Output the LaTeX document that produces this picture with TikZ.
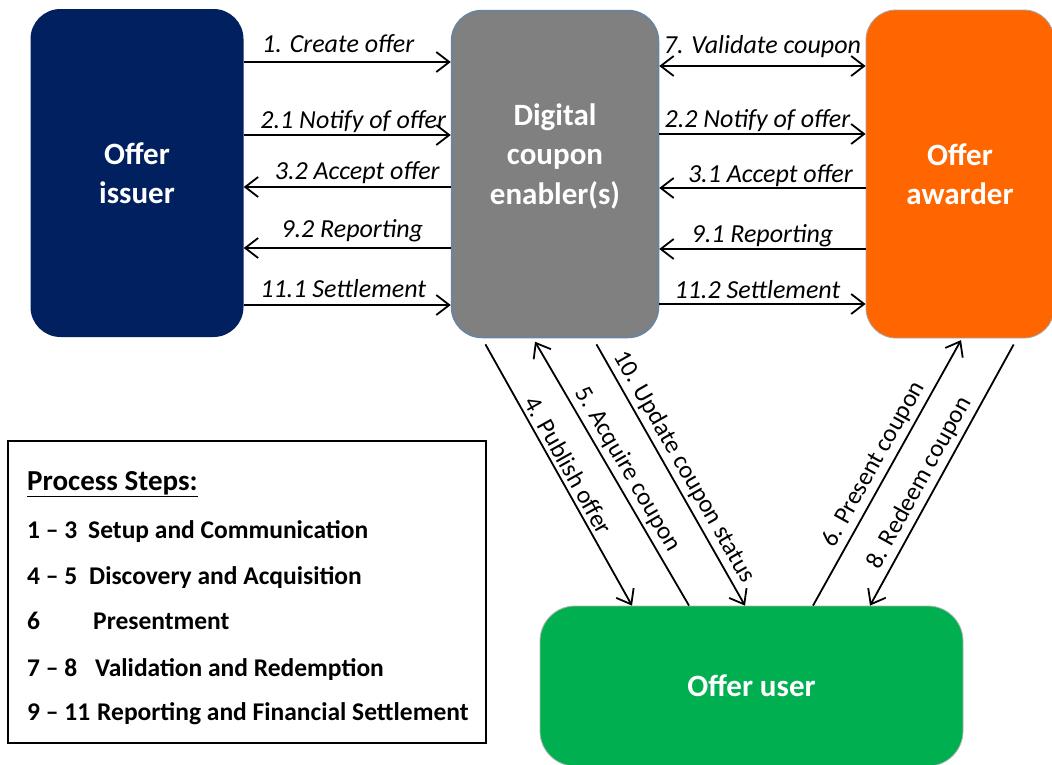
\documentclass[tikz,border=0pt]{standalone}
\usepackage{fontspec}
\setmainfont{Carlito}
\usepackage{tikz}
\usetikzlibrary{arrows.meta,positioning}

\definecolor{issuerblue}{HTML}{002060}
\definecolor{enablergray}{HTML}{808080}
\definecolor{enablerrim}{HTML}{6F8296}
\definecolor{awarderorange}{HTML}{FF6600}
\definecolor{usergreen}{HTML}{00B050}

\tikzset{
  party/.style={rounded corners=30pt, text=white, align=center, inner sep=0pt,
    font=\fontsize{31}{39.5}\selectfont\bfseries},
  flow/.style={line width=1.8pt, >={Straight Barb[length=13pt,width=20pt]}},
  msg/.style={midway, anchor=base, yshift=8pt, inner sep=0pt,
    font=\fontsize{26}{30}\selectfont\itshape},
  dmsg/.style={above, sloped, inner sep=4pt, font=\fontsize{25}{29}\selectfont},
  stepline/.style={anchor=base west, inner sep=0pt, font=\fontsize{25.5}{30}\selectfont\bfseries},
}

\begin{document}
\begin{tikzpicture}[x=1pt,y=-1pt]
\useasboundingbox (0,0) rectangle (1052,764);

% the four parties
\node[party, fill=issuerblue, minimum width=213pt, minimum height=328pt] (issuer) at (137,173) {Offer\\issuer};
\node[party, fill=enablergray, draw=enablerrim, line width=2.5pt, minimum width=206pt, minimum height=326pt] (enabler) at (555,174) {};
\node[party] (enablername) at ([yshift=18pt]enabler.center) {Digital\\coupon\\enabler(s)};
\node[party, fill=awarderorange, draw=gray!70, line width=0.8pt, minimum width=188pt, minimum height=328pt] (awarder) at (960,174) {Offer\\awarder};
\node[party, rounded corners=35pt, fill=usergreen, draw=gray!60, line width=0.8pt, minimum width=423pt, minimum height=160pt] (user) at (751.5,686) {Offer user};

% issuer <-> enabler
\draw[flow,->] (issuer.east |- 0,62) -- (enabler.west |- 0,62) node[msg, xshift=-9pt, yshift=2pt] {1. Create offer};
\draw[flow,->] (issuer.east |- 0,135) -- (enabler.west |- 0,135) node[msg, xshift=6pt, yshift=-1pt] {2.1 Notify of offer};
\draw[flow,<-] (issuer.east |- 0,187) -- (enabler.west |- 0,187) node[msg, xshift=10pt] {3.2 Accept offer};
\draw[flow,<-] (issuer.east |- 0,248) -- (enabler.west |- 0,248) node[msg, xshift=5pt, yshift=3pt] {9.2 Reporting};
\draw[flow,->] (issuer.east |- 0,305) -- (enabler.west |- 0,305) node[msg, xshift=-4pt] {11.1 Settlement};

% enabler <-> awarder
\draw[flow,<->] (enabler.east |- 0,66) -- (awarder.west |- 0,66) node[msg, yshift=5pt] {7. Validate coupon};
\draw[flow,->] (enabler.east |- 0,134) -- (awarder.west |- 0,134) node[msg, xshift=-5pt, yshift=-1pt] {2.2 Notify of offer};
\draw[flow,<-] (enabler.east |- 0,188) -- (awarder.west |- 0,188) node[msg, xshift=8pt, yshift=-2pt] {3.1 Accept offer};
\draw[flow,<-] (enabler.east |- 0,249) -- (awarder.west |- 0,249) node[msg, yshift=-1pt] {9.1 Reporting};
\draw[flow,->] (enabler.east |- 0,304) -- (awarder.west |- 0,304) node[msg, xshift=-5pt, yshift=-2pt] {11.2 Settlement};

% user side
\draw[flow,->,shorten <=7pt] (enabler.south -| 482,0) -- (user.north -| 632,0) node[dmsg, pos=0.5] {4. Publish offer};
\draw[flow,<-,shorten <=4pt] (enabler.south -| 533,0) -- (user.north -| 689,0) node[dmsg, pos=0.52] {5. Acquire coupon};
\draw[flow,->,shorten <=7pt] (enabler.south -| 593,0) -- (user.north -| 745,0) node[dmsg, pos=0.51] {10. Update coupon status};
\draw[flow,->,shorten >=2pt] (user.north -| 813,0) -- (awarder.south -| 962,0) node[dmsg, pos=0.5] {6. Present coupon};
\draw[flow,<-,shorten >=7pt] (user.north -| 870,0) -- (awarder.south -| 1017,0) node[dmsg, pos=0.43] {8. Redeem coupon};

% legend
\node[draw, line width=1.6pt, inner sep=0pt, minimum width=478pt, minimum height=302pt] (steps) at (247,592) {};
\node[stepline, font=\fontsize{29}{34}\selectfont\bfseries] (stepshead) at (27,490) {\underline{Process Steps:}};
\node[stepline] (step1) at (27,538) {\makebox[61pt][l]{1 -- 3}Setup and Communication};
\node[stepline] (step2) at (27,584) {\makebox[62pt][l]{4 -- 5}Discovery and Acquisition};
\node[stepline] (step3) at (27,629) {\makebox[66pt][l]{6}Presentment};
\node[stepline] (step4) at (27,676) {\makebox[68pt][l]{7 -- 8}Validation and Redemption};
\node[stepline] (step5) at (27,720) {\makebox[70pt][l]{9 -- 11}Reporting and Financial Settlement};
\end{tikzpicture}
\end{document}
